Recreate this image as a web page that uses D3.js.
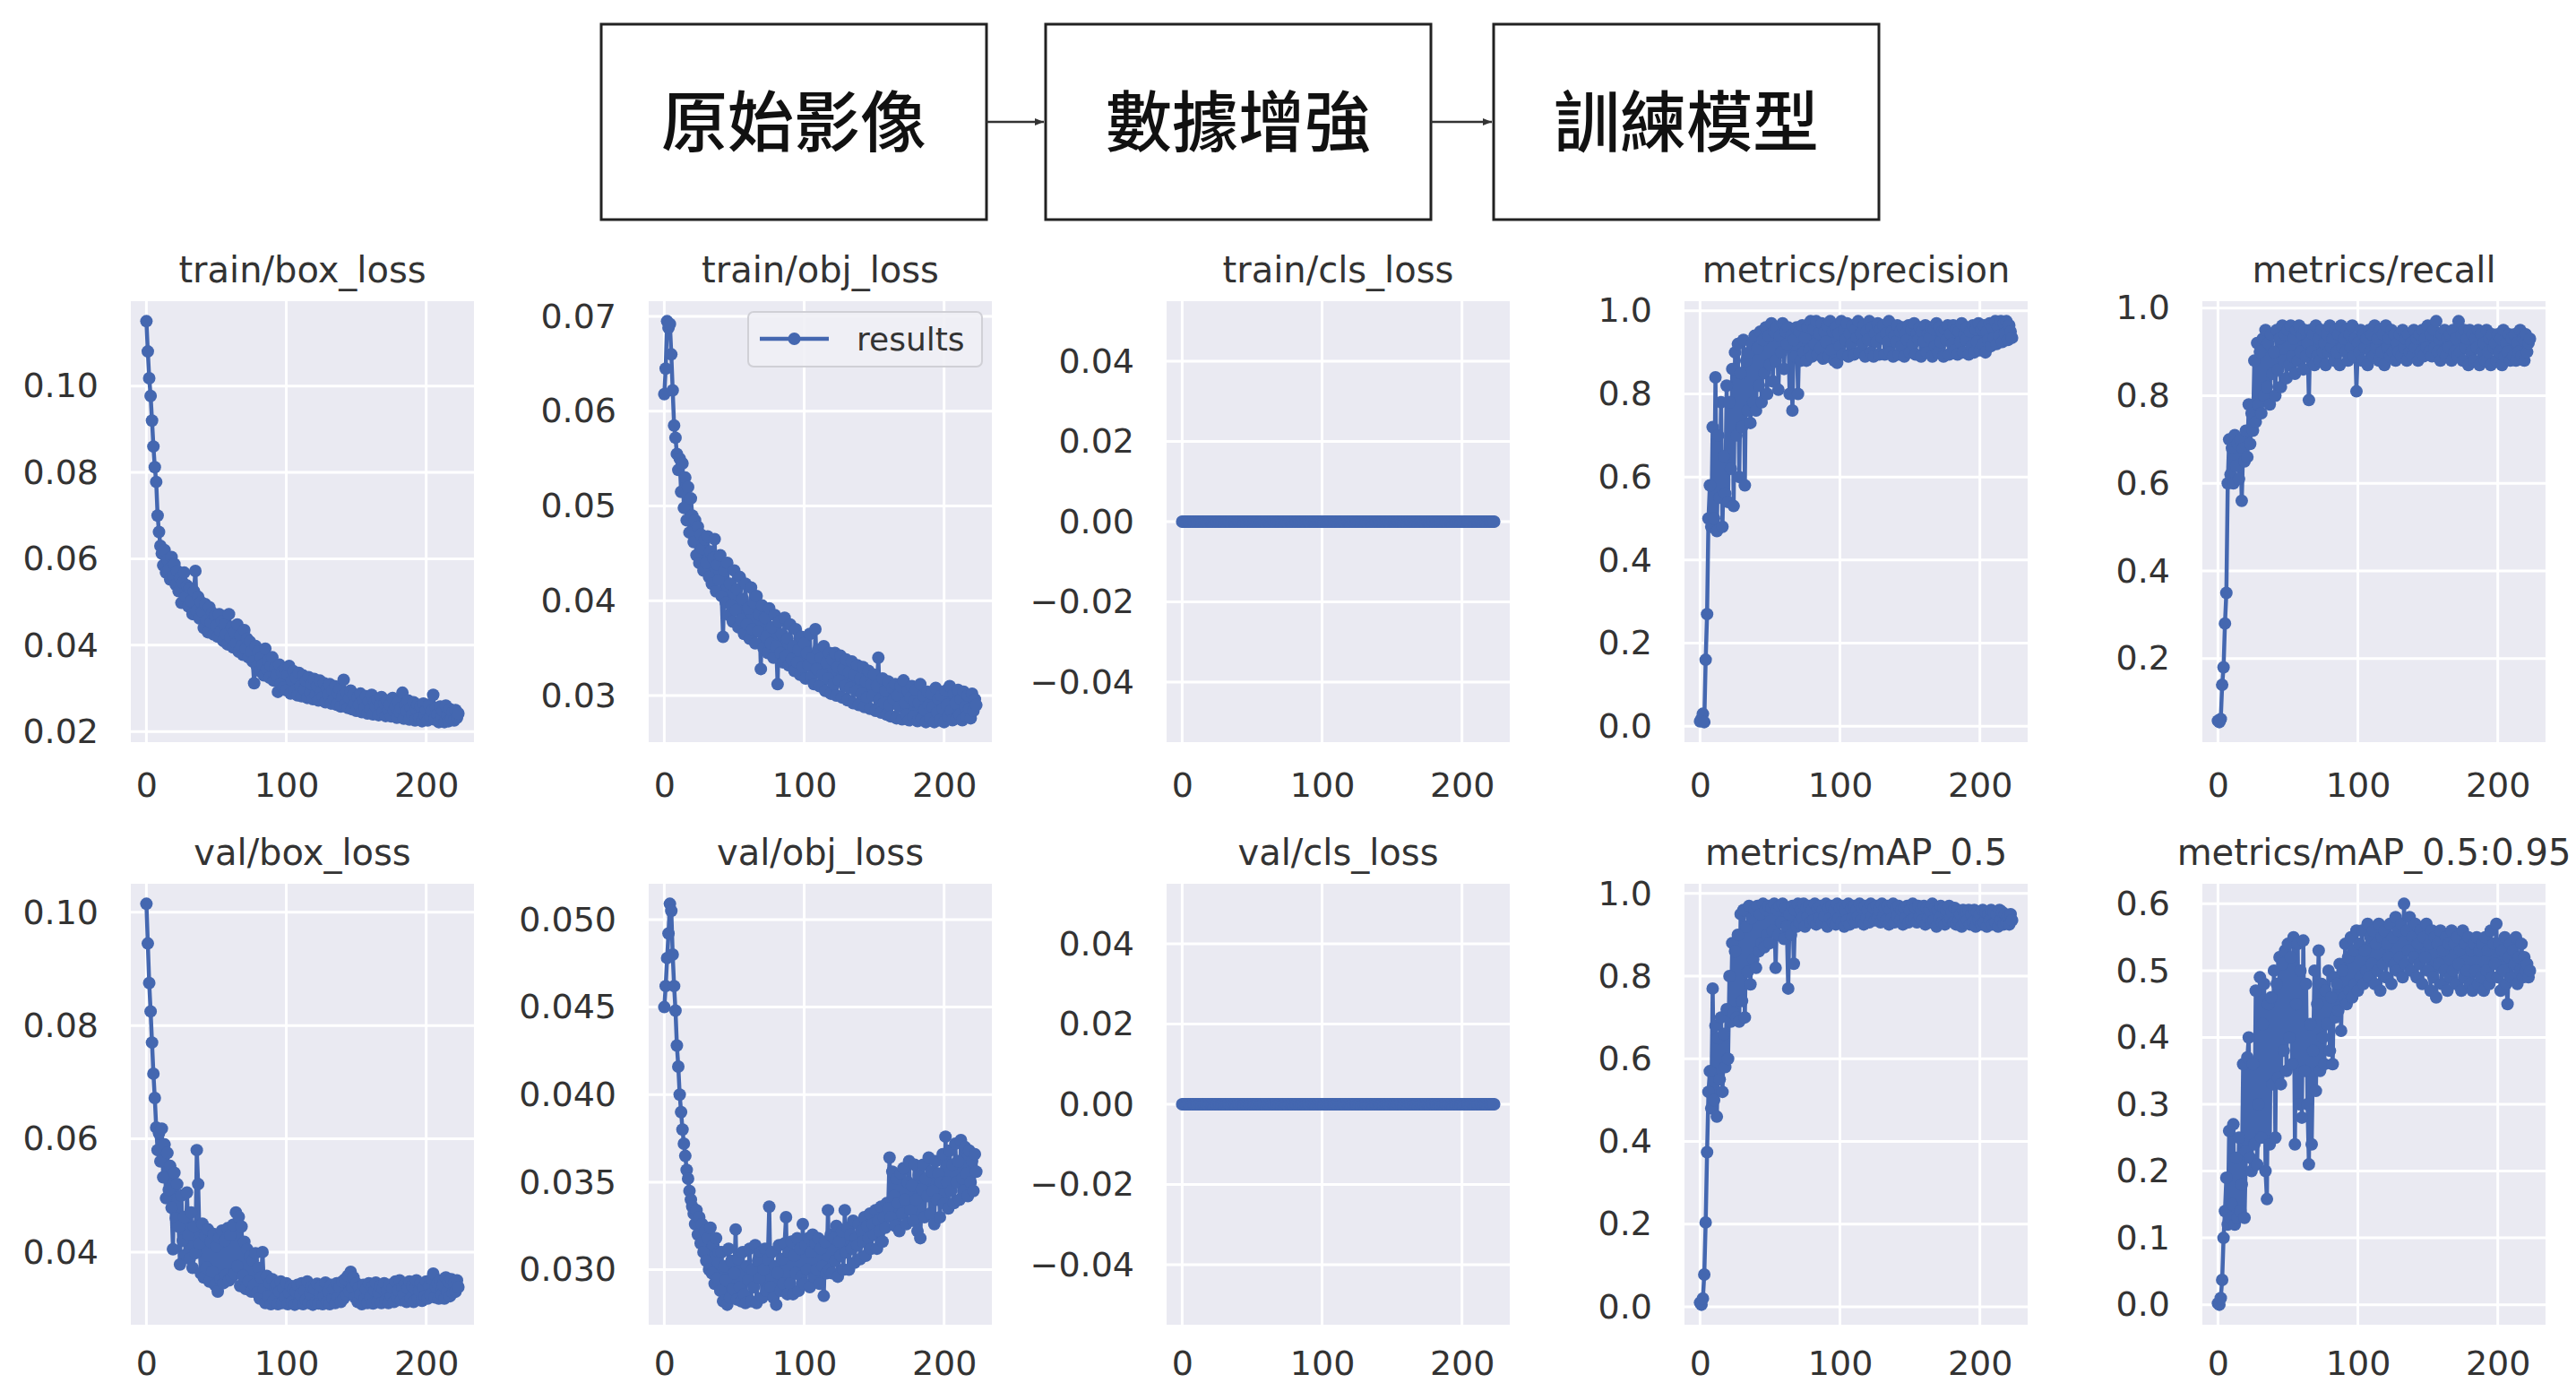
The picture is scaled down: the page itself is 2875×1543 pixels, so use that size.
<!DOCTYPE html>
<html>
<head>
<meta charset="utf-8">
<script src="https://cdn.jsdelivr.net/npm/d3@7"></script>
<style>
  html, body { margin: 0; padding: 0; background: #fff; }
  svg { display: block; }
</style>
</head>
<body>
<div id="chart"></div>
<script>
const width = 2875;
const height = 1543;

// flow chart steps
const steps = ["原始影像", "數據增強", "訓練模型"];

const panelTitles = [
  "train/box_loss", "train/obj_loss", "train/cls_loss", "metrics/precision", "metrics/recall",
  "val/box_loss", "val/obj_loss", "val/cls_loss", "metrics/mAP_0.5", "metrics/mAP_0.5:0.95"
];

const xTicks = [0, 100, 200];
const yTicks = [
  [0.02, 0.04, 0.06, 0.08, 0.10],
  [0.03, 0.04, 0.05, 0.06, 0.07],
  [-0.04, -0.02, 0, 0.02, 0.04],
  [0, 0.2, 0.4, 0.6, 0.8, 1.0],
  [0.2, 0.4, 0.6, 0.8, 1.0],
  [0.04, 0.06, 0.08, 0.10],
  [0.030, 0.035, 0.040, 0.045, 0.050],
  [-0.04, -0.02, 0, 0.02, 0.04],
  [0, 0.2, 0.4, 0.6, 0.8, 1.0],
  [0, 0.1, 0.2, 0.3, 0.4, 0.5, 0.6]
];
const yFormats = [".2f", ".2f", ".2f", ".1f", ".1f", ".2f", ".3f", ".2f", ".1f", ".1f"];

// one value per epoch (0..223)
const trainBoxLoss = [
  .1150,.1080,.1018,.0977,.0920,.0860,.0812,.0778,.0700,.0662,
  .0630,.0612,.0585,.0620,.0568,.0598,.0575,.0552,.0604,.0560,
  .0588,.0540,.0572,.0525,.0556,.0498,.0545,.0568,.0512,.0538,
  .0490,.0532,.0502,.0472,.0525,.0572,.0480,.0512,.0462,.0500,
  .0478,.0440,.0495,.0458,.0430,.0488,.0452,.0475,.0425,.0468,
  .0445,.0420,.0472,.0432,.0455,.0410,.0448,.0425,.0402,.0472,
  .0418,.0442,.0395,.0430,.0405,.0448,.0385,.0422,.0398,.0378,
  .0435,.0392,.0415,.0372,.0408,.0385,.0362,.0312,.0398,.0352,
  .0385,.0340,.0372,.0355,.0330,.0392,.0345,.0365,.0325,.0352,
  .0372,.0318,.0348,.0330,.0292,.0355,.0310,.0338,.0302,.0345,
  .0296,.0332,.0352,.0288,.0318,.0340,.0295,.0325,.0284,.0336,
  .0305,.0282,.0330,.0298,.0318,.0278,.0326,.0290,.0310,.0275,
  .0322,.0285,.0305,.0272,.0318,.0292,.0280,.0312,.0268,.0300,
  .0285,.0310,.0265,.0295,.0275,.0305,.0262,.0288,.0298,.0258,
  .0282,.0320,.0262,.0290,.0255,.0278,.0295,.0252,.0285,.0265,
  .0248,.0280,.0262,.0288,.0245,.0272,.0255,.0282,.0242,.0270,
  .0252,.0285,.0240,.0268,.0258,.0275,.0238,.0262,.0280,.0245,
  .0265,.0236,.0272,.0250,.0262,.0235,.0278,.0248,.0258,.0232,
  .0268,.0245,.0255,.0290,.0230,.0262,.0248,.0272,.0228,.0255,
  .0240,.0268,.0226,.0252,.0262,.0232,.0258,.0224,.0265,.0238,
  .0250,.0226,.0262,.0235,.0248,.0285,.0228,.0255,.0240,.0222,
  .0258,.0234,.0248,.0222,.0260,.0238,.0224,.0252,.0230,.0246,
  .0226,.0250,.0232,.0242
];

const trainObjLoss = [
  .0618,.0645,.0695,.0688,.0692,.0660,.0622,.0585,.0572,.0555,
  .0538,.0550,.0515,.0545,.0498,.0530,.0485,.0520,.0472,.0508,
  .0490,.0462,.0485,.0448,.0478,.0440,.0470,.0455,.0432,.0465,
  .0440,.0468,.0425,.0452,.0418,.0445,.0465,.0410,.0438,.0422,
  .0448,.0405,.0362,.0432,.0398,.0440,.0385,.0418,.0395,.0378,
  .0432,.0390,.0412,.0372,.0425,.0380,.0402,.0365,.0418,.0375,
  .0392,.0360,.0414,.0370,.0398,.0355,.0405,.0368,.0385,.0328,
  .0395,.0350,.0382,.0362,.0345,.0392,.0355,.0372,.0340,.0385,
  .0352,.0312,.0378,.0345,.0365,.0335,.0382,.0342,.0360,.0332,
  .0375,.0338,.0352,.0326,.0370,.0335,.0348,.0322,.0362,.0330,
  .0355,.0318,.0345,.0332,.0365,.0320,.0340,.0312,.0370,.0328,
  .0348,.0310,.0340,.0322,.0352,.0305,.0335,.0318,.0345,.0302,
  .0338,.0312,.0345,.0300,.0330,.0316,.0342,.0298,.0328,.0310,
  .0338,.0295,.0325,.0308,.0336,.0292,.0322,.0305,.0332,.0290,
  .0318,.0302,.0330,.0288,.0315,.0298,.0326,.0286,.0312,.0300,
  .0322,.0284,.0310,.0340,.0296,.0282,.0318,.0292,.0305,.0280,
  .0315,.0290,.0278,.0308,.0296,.0312,.0276,.0300,.0288,.0310,
  .0275,.0316,.0292,.0280,.0305,.0274,.0298,.0310,.0278,.0294,
  .0306,.0273,.0292,.0312,.0276,.0300,.0285,.0272,.0304,.0290,
  .0276,.0302,.0288,.0272,.0308,.0282,.0296,.0274,.0300,.0286,
  .0272,.0305,.0290,.0278,.0310,.0284,.0274,.0302,.0292,.0276,
  .0306,.0280,.0296,.0274,.0304,.0288,.0278,.0300,.0286,.0276,
  .0302,.0284,.0296,.0290
];

const trainClsLoss = [
  0,0,0,0,0,0,0,0,0,0,0,0,0,0,0,0,0,0,0,0,
  0,0,0,0,0,0,0,0,0,0,0,0,0,0,0,0,0,0,0,0,
  0,0,0,0,0,0,0,0,0,0,0,0,0,0,0,0,0,0,0,0,
  0,0,0,0,0,0,0,0,0,0,0,0,0,0,0,0,0,0,0,0,
  0,0,0,0,0,0,0,0,0,0,0,0,0,0,0,0,0,0,0,0,
  0,0,0,0,0,0,0,0,0,0,0,0,0,0,0,0,0,0,0,0,
  0,0,0,0,0,0,0,0,0,0,0,0,0,0,0,0,0,0,0,0,
  0,0,0,0,0,0,0,0,0,0,0,0,0,0,0,0,0,0,0,0,
  0,0,0,0,0,0,0,0,0,0,0,0,0,0,0,0,0,0,0,0,
  0,0,0,0,0,0,0,0,0,0,0,0,0,0,0,0,0,0,0,0,
  0,0,0,0,0,0,0,0,0,0,0,0,0,0,0,0,0,0,0,0,
  0,0,0,0
];

const precision = [
  .012,.018,.030,.010,.160,.270,.500,.580,.480,.720,
  .500,.840,.470,.700,.550,.780,.480,.650,.560,.820,
  .540,.780,.620,.860,.530,.900,.700,.920,.600,.850,
  .720,.930,.580,.880,.760,.900,.730,.920,.780,.940,
  .760,.910,.820,.950,.780,.930,.850,.960,.800,.940,
  .870,.970,.830,.950,.880,.960,.810,.940,.900,.970,
  .860,.950,.920,.960,.800,.940,.760,.930,.890,.960,
  .800,.950,.880,.965,.900,.935,.880,.960,.905,.975,
  .890,.955,.920,.975,.895,.945,.910,.970,.885,.950,
  .925,.965,.890,.975,.905,.950,.880,.960,.875,.945,
  .915,.975,.895,.955,.930,.970,.890,.945,.920,.965,
  .895,.955,.935,.975,.900,.945,.920,.965,.890,.950,
  .930,.975,.900,.960,.890,.945,.925,.970,.895,.955,
  .935,.965,.895,.945,.925,.975,.900,.950,.890,.940,
  .925,.965,.895,.950,.915,.960,.890,.945,.930,.965,
  .900,.955,.920,.970,.895,.945,.930,.960,.890,.950,
  .925,.965,.900,.945,.935,.960,.890,.955,.915,.970,
  .900,.960,.925,.950,.890,.955,.930,.965,.895,.945,
  .920,.965,.905,.955,.895,.950,.925,.970,.900,.945,
  .930,.960,.895,.950,.915,.965,.900,.955,.925,.970,
  .905,.955,.920,.965,.900,.950,.930,.970,.915,.960,
  .935,.975,.920,.960,.940,.975,.925,.970,.945,.975,
  .930,.965,.950,.935
];

const recall = [
  .058,.055,.062,.140,.180,.280,.350,.600,.700,.620,
  .680,.600,.710,.640,.690,.610,.700,.560,.680,.650,
  .720,.660,.780,.690,.760,.720,.880,.740,.920,.780,
  .900,.760,.930,.800,.950,.820,.920,.780,.940,.850,
  .900,.800,.950,.860,.930,.820,.960,.880,.940,.840,
  .950,.870,.960,.890,.930,.850,.950,.880,.960,.900,
  .940,.860,.950,.890,.920,.790,.950,.900,.940,.870,
  .960,.890,.930,.880,.950,.900,.920,.870,.940,.900,
  .960,.910,.930,.880,.950,.900,.940,.870,.960,.910,
  .930,.900,.950,.880,.940,.910,.960,.890,.930,.810,
  .920,.900,.950,.880,.940,.910,.930,.870,.950,.900,
  .940,.890,.960,.910,.930,.880,.950,.900,.940,.870,
  .960,.910,.930,.890,.950,.900,.940,.880,.920,.900,
  .940,.890,.950,.910,.930,.880,.940,.900,.920,.890,
  .950,.910,.930,.880,.940,.900,.950,.890,.930,.910,
  .960,.900,.940,.890,.950,.910,.970,.900,.930,.880,
  .940,.900,.950,.890,.930,.910,.940,.880,.950,.900,
  .930,.890,.970,.900,.940,.880,.950,.910,.930,.870,
  .950,.900,.940,.880,.930,.910,.950,.870,.940,.900,
  .920,.880,.950,.900,.930,.870,.940,.910,.920,.880,
  .940,.900,.930,.870,.950,.890,.920,.900,.940,.880,
  .930,.890,.940,.880,.920,.900,.950,.890,.930,.880,
  .940,.900,.920,.930
];

const valBoxLoss = [
  .1015,.0945,.0875,.0825,.0770,.0715,.0672,.0620,.0580,.0610,
  .0560,.0618,.0532,.0590,.0495,.0575,.0510,.0552,.0478,.0405,
  .0540,.0460,.0520,.0445,.0378,.0500,.0420,.0462,.0395,.0505,
  .0430,.0388,.0470,.0372,.0445,.0398,.0580,.0520,.0415,.0362,
  .0450,.0355,.0428,.0372,.0440,.0348,.0418,.0365,.0432,.0342,
  .0410,.0330,.0425,.0352,.0438,.0345,.0420,.0360,.0442,.0350,
  .0430,.0355,.0448,.0362,.0470,.0375,.0462,.0340,.0445,.0358,
  .0418,.0335,.0405,.0348,.0392,.0330,.0385,.0342,.0398,.0328,
  .0372,.0318,.0355,.0400,.0335,.0310,.0358,.0322,.0345,.0308,
  .0352,.0315,.0338,.0342,.0308,.0330,.0348,.0310,.0336,.0320,
  .0345,.0308,.0328,.0340,.0312,.0335,.0307,.0330,.0342,.0310,
  .0325,.0345,.0308,.0332,.0316,.0348,.0310,.0326,.0338,.0307,
  .0335,.0312,.0344,.0309,.0328,.0340,.0308,.0322,.0346,.0312,
  .0330,.0308,.0342,.0318,.0335,.0310,.0345,.0320,.0338,.0312,
  .0348,.0318,.0352,.0325,.0358,.0330,.0365,.0338,.0355,.0320,
  .0345,.0312,.0338,.0325,.0308,.0342,.0318,.0335,.0310,.0345,
  .0320,.0338,.0309,.0332,.0346,.0312,.0328,.0340,.0310,.0335,
  .0345,.0315,.0332,.0310,.0342,.0322,.0336,.0312,.0348,.0320,
  .0332,.0350,.0315,.0338,.0325,.0345,.0312,.0336,.0348,.0318,
  .0340,.0312,.0335,.0350,.0318,.0332,.0345,.0314,.0338,.0322,
  .0348,.0318,.0340,.0325,.0352,.0362,.0320,.0338,.0345,.0318,
  .0350,.0325,.0342,.0318,.0355,.0330,.0348,.0322,.0352,.0328,
  .0345,.0330,.0350,.0338
];

const valObjLoss = [
  .0450,.0462,.0478,.0492,.0509,.0505,.0480,.0462,.0448,.0428,
  .0416,.0400,.0390,.0380,.0372,.0365,.0357,.0352,.0345,.0340,
  .0336,.0332,.0326,.0334,.0320,.0330,.0315,.0326,.0310,.0322,
  .0305,.0318,.0300,.0324,.0298,.0314,.0292,.0318,.0295,.0310,
  .0288,.0310,.0282,.0302,.0294,.0280,.0312,.0284,.0305,.0289,
  .0298,.0323,.0283,.0306,.0290,.0282,.0310,.0286,.0281,.0302,
  .0294,.0312,.0282,.0300,.0290,.0314,.0281,.0305,.0295,.0310,
  .0284,.0300,.0312,.0288,.0306,.0336,.0290,.0310,.0284,.0302,
  .0280,.0298,.0314,.0288,.0306,.0292,.0315,.0330,.0286,.0310,
  .0292,.0316,.0286,.0308,.0298,.0318,.0288,.0312,.0296,.0326,
  .0292,.0314,.0300,.0318,.0290,.0310,.0320,.0296,.0315,.0300,
  .0318,.0292,.0312,.0302,.0285,.0316,.0298,.0334,.0300,.0320,
  .0298,.0318,.0305,.0325,.0296,.0316,.0308,.0322,.0300,.0334,
  .0310,.0324,.0300,.0320,.0312,.0328,.0304,.0318,.0314,.0326,
  .0306,.0322,.0316,.0330,.0308,.0325,.0318,.0332,.0312,.0326,
  .0320,.0334,.0312,.0328,.0322,.0336,.0316,.0330,.0324,.0338,
  .0335,.0364,.0330,.0356,.0342,.0325,.0352,.0338,.0322,.0355,
  .0332,.0358,.0340,.0326,.0350,.0362,.0334,.0348,.0328,.0360,
  .0340,.0322,.0354,.0318,.0346,.0360,.0330,.0352,.0342,.0364,
  .0332,.0356,.0345,.0326,.0362,.0340,.0355,.0330,.0350,.0366,
  .0338,.0376,.0350,.0335,.0368,.0345,.0360,.0338,.0372,.0350,
  .0362,.0340,.0374,.0352,.0345,.0370,.0355,.0342,.0368,.0350,
  .0362,.0345,.0366,.0356
];

const valClsLoss = [
  0,0,0,0,0,0,0,0,0,0,0,0,0,0,0,0,0,0,0,0,
  0,0,0,0,0,0,0,0,0,0,0,0,0,0,0,0,0,0,0,0,
  0,0,0,0,0,0,0,0,0,0,0,0,0,0,0,0,0,0,0,0,
  0,0,0,0,0,0,0,0,0,0,0,0,0,0,0,0,0,0,0,0,
  0,0,0,0,0,0,0,0,0,0,0,0,0,0,0,0,0,0,0,0,
  0,0,0,0,0,0,0,0,0,0,0,0,0,0,0,0,0,0,0,0,
  0,0,0,0,0,0,0,0,0,0,0,0,0,0,0,0,0,0,0,0,
  0,0,0,0,0,0,0,0,0,0,0,0,0,0,0,0,0,0,0,0,
  0,0,0,0,0,0,0,0,0,0,0,0,0,0,0,0,0,0,0,0,
  0,0,0,0,0,0,0,0,0,0,0,0,0,0,0,0,0,0,0,0,
  0,0,0,0,0,0,0,0,0,0,0,0,0,0,0,0,0,0,0,0,
  0,0,0,0
];

const mAP50 = [
  .010,.005,.020,.078,.204,.374,.520,.570,.480,.770,
  .500,.680,.460,.650,.550,.700,.520,.660,.580,.720,
  .600,.800,.690,.880,.710,.860,.700,.900,.690,.950,
  .740,.960,.700,.920,.810,.970,.780,.940,.840,.960,
  .820,.970,.860,.950,.880,.975,.870,.960,.900,.970,
  .880,.965,.910,.975,.820,.960,.900,.970,.930,.975,
  .890,.965,.920,.770,.950,.900,.970,.830,.960,.920,
  .975,.930,.960,.940,.975,.920,.965,.945,.970,.930,
  .960,.935,.975,.925,.965,.940,.970,.930,.960,.945,
  .975,.920,.965,.940,.970,.930,.960,.925,.975,.940,
  .965,.930,.970,.920,.960,.935,.975,.925,.965,.940,
  .970,.930,.960,.945,.975,.935,.965,.925,.970,.940,
  .960,.930,.975,.945,.965,.935,.970,.940,.960,.930,
  .975,.945,.965,.935,.970,.925,.960,.940,.975,.930,
  .965,.945,.970,.935,.960,.925,.965,.940,.970,.930,
  .960,.935,.975,.940,.965,.930,.970,.945,.960,.935,
  .970,.925,.965,.940,.960,.930,.975,.935,.965,.920,
  .960,.940,.970,.930,.965,.925,.960,.935,.970,.940,
  .955,.930,.965,.925,.960,.935,.950,.920,.960,.930,
  .955,.935,.960,.925,.950,.930,.960,.920,.955,.935,
  .950,.925,.960,.930,.955,.920,.950,.935,.960,.925,
  .955,.930,.950,.920,.960,.935,.955,.925,.950,.930,
  .945,.925,.950,.935
];

const mAP5095 = [
  .002,.000,.010,.037,.100,.140,.190,.120,.260,.130,
  .150,.270,.120,.220,.130,.250,.140,.180,.360,.130,
  .230,.370,.400,.220,.200,.360,.240,.470,.210,.300,
  .490,.250,.420,.480,.200,.158,.450,.240,.460,.330,
  .500,.250,.480,.340,.520,.330,.510,.380,.530,.350,
  .540,.400,.520,.360,.550,.240,.450,.540,.300,.500,
  .280,.545,.350,.480,.300,.210,.420,.240,.380,.500,
  .320,.450,.530,.350,.480,.400,.360,.470,.420,.500,
  .380,.460,.360,.490,.430,.480,.440,.510,.410,.500,
  .460,.540,.450,.520,.470,.550,.460,.530,.480,.560,
  .470,.540,.490,.560,.480,.530,.500,.570,.490,.550,
  .510,.560,.480,.540,.500,.570,.470,.550,.510,.560,
  .490,.540,.520,.570,.480,.550,.510,.580,.500,.560,
  .520,.570,.490,.600,.510,.560,.530,.580,.500,.550,
  .520,.570,.490,.540,.510,.560,.480,.550,.520,.570,
  .500,.540,.470,.560,.490,.550,.460,.540,.510,.560,
  .480,.530,.500,.550,.470,.540,.490,.560,.500,.540,
  .480,.550,.510,.530,.470,.560,.490,.540,.500,.550,
  .480,.530,.470,.540,.500,.550,.480,.530,.490,.540,
  .470,.550,.500,.530,.480,.560,.490,.540,.510,.570,
  .490,.540,.470,.530,.500,.550,.480,.450,.520,.540,
  .490,.530,.510,.550,.480,.520,.500,.540,.490,.520,
  .500,.510,.490,.500
];

const panelSeries = [
  trainBoxLoss, trainObjLoss, trainClsLoss, precision, recall,
  valBoxLoss, valObjLoss, valClsLoss, mAP50, mAP5095
];

// layout
const plotW = 383, plotH = 492;
const colLeft = [146, 724, 1302, 1880, 2458];
const rowTop = [336, 986];
const xLabelPad = [34, 29];
const blue = "#4467b0";
const bg = "#eaeaf2";
const textColor = "#333";
const font = "DejaVu Sans, sans-serif";
const markerR = 7;
const lineW = 4.5;

const svg = d3.select("#chart")
  .append("svg")
  .attr("width", width)
  .attr("height", height)
  .attr("viewBox", [0, 0, width, height]);

svg.append("rect").attr("width", width).attr("height", height).attr("fill", "#fff");

// flow chart on top
svg.append("defs").append("marker")
  .attr("id", "arrow")
  .attr("viewBox", "0 0 10 10")
  .attr("refX", 10).attr("refY", 5)
  .attr("markerWidth", 4).attr("markerHeight", 4)
  .attr("orient", "auto")
  .append("path").attr("d", "M0,1L10,5L0,9z").attr("fill", "#333");

const boxX = [671, 1167, 1667], boxW = 430, boxY = 27, boxH = 218;
const flow = svg.append("g").attr("class", "flow");
flow.selectAll("rect")
  .data(steps)
  .join("rect")
  .attr("x", (d, i) => boxX[i])
  .attr("y", boxY)
  .attr("width", boxW)
  .attr("height", boxH)
  .attr("fill", "#fff")
  .attr("stroke", "#222")
  .attr("stroke-width", 3);
flow.selectAll("text")
  .data(steps)
  .join("text")
  .attr("x", (d, i) => boxX[i] + boxW / 2)
  .attr("y", boxY + boxH / 2)
  .attr("dy", "0.36em")
  .attr("text-anchor", "middle")
  .attr("font-family", "Noto Sans CJK TC, sans-serif")
  .attr("font-weight", 500)
  .attr("font-size", 74)
  .attr("fill", "#111")
  .text(d => d);
flow.selectAll("line")
  .data(steps.slice(1))
  .join("line")
  .attr("x1", (d, i) => boxX[i] + boxW)
  .attr("x2", (d, i) => boxX[i + 1] - 2)
  .attr("y1", 136).attr("y2", 136)
  .attr("stroke", "#333")
  .attr("stroke-width", 2.5)
  .attr("marker-end", "url(#arrow)");

// the ten result panels
panelSeries.forEach((values, i) => {
  const col = i % 5, row = Math.floor(i / 5);
  const g = svg.append("g")
    .attr("transform", `translate(${colLeft[col]},${rowTop[row]})`);

  const n = values.length;
  const x = d3.scaleLinear()
    .domain([-0.05 * (n - 1), 1.05 * (n - 1)])
    .range([0, plotW]);

  let [lo, hi] = d3.extent(values);
  if (lo === hi) { lo -= 0.05; hi += 0.05; } // flat series, like matplotlib
  const pad = 0.05 * (hi - lo);
  const y = d3.scaleLinear()
    .domain([lo - pad, hi + pad])
    .range([plotH, 0]);

  g.append("rect").attr("width", plotW).attr("height", plotH).attr("fill", bg);

  // grid
  g.append("g").selectAll("line")
    .data(xTicks)
    .join("line")
    .attr("x1", d => x(d)).attr("x2", d => x(d))
    .attr("y1", 0).attr("y2", plotH)
    .attr("stroke", "#fff").attr("stroke-width", 3);
  g.append("g").selectAll("line")
    .data(yTicks[i])
    .join("line")
    .attr("x1", 0).attr("x2", plotW)
    .attr("y1", d => y(d)).attr("y2", d => y(d))
    .attr("stroke", "#fff").attr("stroke-width", 3);

  // series
  const line = d3.line().x((d, j) => x(j)).y(d => y(d));
  g.append("path")
    .datum(values)
    .attr("d", line)
    .attr("fill", "none")
    .attr("stroke", blue)
    .attr("stroke-width", lineW)
    .attr("stroke-linejoin", "round");
  g.append("g").selectAll("circle")
    .data(values)
    .join("circle")
    .attr("cx", (d, j) => x(j))
    .attr("cy", d => y(d))
    .attr("r", markerR)
    .attr("fill", blue);

  // axes
  const yAxis = g.append("g")
    .call(d3.axisLeft(y).tickValues(yTicks[i]).tickFormat(d3.format(yFormats[i])).tickSize(0).tickPadding(36));
  yAxis.select(".domain").remove();
  yAxis.selectAll("text")
    .attr("font-size", 38).attr("font-family", font).attr("fill", textColor);

  const xAxis = g.append("g")
    .attr("transform", `translate(0,${plotH})`)
    .call(d3.axisBottom(x).tickValues(xTicks).tickFormat(d3.format("d")).tickSize(0).tickPadding(xLabelPad[row]));
  xAxis.select(".domain").remove();
  xAxis.selectAll("text")
    .attr("font-size", 38).attr("font-family", font).attr("fill", textColor);

  // title
  g.append("text")
    .attr("x", plotW / 2)
    .attr("y", -35)
    .attr("dy", "0.35em")
    .attr("text-anchor", "middle")
    .attr("font-size", 40)
    .attr("font-family", font)
    .attr("fill", textColor)
    .text(panelTitles[i]);

  // legend sits only in train/obj_loss
  if (i === 1) {
    const lg = g.append("g").attr("transform", "translate(111,12)");
    lg.append("rect")
      .attr("width", 261).attr("height", 61).attr("rx", 6)
      .attr("fill", "#efeff5").attr("fill-opacity", 0.9)
      .attr("stroke", "#d0d0d6").attr("stroke-width", 2);
    lg.append("line")
      .attr("x1", 13).attr("x2", 90).attr("y1", 30).attr("y2", 30)
      .attr("stroke", blue).attr("stroke-width", lineW);
    lg.append("circle").attr("cx", 51.5).attr("cy", 30).attr("r", markerR).attr("fill", blue);
    lg.append("text")
      .attr("x", 121).attr("y", 30).attr("dy", "0.35em")
      .attr("font-size", 36).attr("font-family", font).attr("fill", textColor)
      .text("results");
  }
});
</script>
</body>
</html>
